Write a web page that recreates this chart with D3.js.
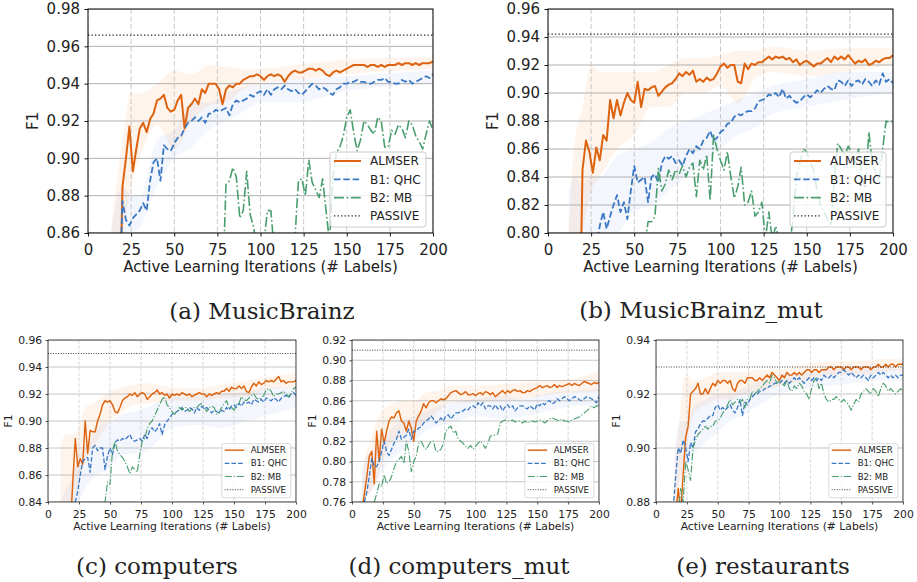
<!DOCTYPE html>
<html>
<head>
<meta charset="utf-8">
<script src="https://cdn.jsdelivr.net/npm/d3@7"></script>
<style>
  body { margin: 0; background: #fff; }
  svg { display: block; }
</style>
</head>
<body>
<svg id="fig" width="917" height="582"></svg>
<script>
// ---- data (F1, every 2nd iteration, x = 0..200) ----
const iterations = d3.range(0, 201, 2);
const xTicks = [0, 25, 50, 75, 100, 125, 150, 175, 200];
const methods = ["ALMSER", "B1: QHC", "B2: MB", "PASSIVE"];
const captions = ["(a) MusicBrainz", "(b) MusicBrainz_mut", "(c) computers", "(d) computers_mut", "(e) restaurants"];
const passiveF1 = [0.966, 0.942, 0.950, 0.910, 0.930];

const yTicksA = [0.86, 0.88, 0.90, 0.92, 0.94, 0.96, 0.98];
const yTicksB = [0.80, 0.82, 0.84, 0.86, 0.88, 0.90, 0.92, 0.94, 0.96];
const yTicksC = [0.84, 0.86, 0.88, 0.90, 0.92, 0.94, 0.96];
const yTicksD = [0.76, 0.78, 0.80, 0.82, 0.84, 0.86, 0.88, 0.90, 0.92];
const yTicksE = [0.88, 0.90, 0.92, 0.94];

// (a) MusicBrainz
const aAlmser = [
  null, null, null, null, null, null, null, null, null, 0.80,
  0.885, 0.9, 0.917, 0.893, 0.905, 0.916, 0.919, 0.914, 0.921, 0.924,
  0.931, 0.932, 0.934, 0.927, 0.925, 0.926, 0.931, 0.934, 0.916, 0.927,
  0.929, 0.932, 0.929, 0.937, 0.935, 0.94, 0.94, 0.94, 0.937, 0.929,
  0.937, 0.939, 0.938, 0.94, 0.94, 0.942, 0.943, 0.944, 0.944, 0.945,
  0.944, 0.942, 0.944, 0.945, 0.944, 0.945, 0.944, 0.941, 0.944, 0.946,
  0.947, 0.946, 0.946, 0.947, 0.948, 0.948, 0.947, 0.948, 0.947, 0.945,
  0.944, 0.946, 0.947, 0.946, 0.947, 0.948, 0.949, 0.95, 0.95, 0.95,
  0.95, 0.949, 0.95, 0.95, 0.949, 0.95, 0.949, 0.95, 0.95, 0.95,
  0.951, 0.95, 0.951, 0.951, 0.95, 0.951, 0.95, 0.951, 0.951, 0.951,
  0.952];
const aQhc = [
  null, null, null, null, null, null, null, null, null, 0.82,
  0.877, 0.867, 0.864, 0.868, 0.87, 0.872, 0.876, 0.872, 0.888, 0.898,
  0.9, 0.888, 0.907, 0.905, 0.904, 0.908, 0.911, 0.912, 0.916, 0.919,
  0.92, 0.922, 0.92, 0.922, 0.919, 0.924, 0.924, 0.926, 0.925, 0.926,
  0.927, 0.923, 0.929, 0.931, 0.93, 0.931, 0.932, 0.934, 0.933, 0.935,
  0.936, 0.934, 0.937, 0.934, 0.937, 0.938, 0.937, 0.939, 0.937, 0.936,
  0.937, 0.935, 0.934, 0.936, 0.938, 0.94, 0.939, 0.937, 0.938, 0.937,
  0.935, 0.934, 0.937, 0.938, 0.94, 0.94, 0.941, 0.941, 0.942, 0.941,
  0.941, 0.94, 0.94, 0.941, 0.942, 0.942, 0.943, 0.941, 0.941, 0.94,
  0.94, 0.942, 0.941, 0.942, 0.94, 0.941, 0.942, 0.943, 0.944, 0.943,
  0.945];
const aMb = [
  null, null, null, null, null, null, null, null, null, null,
  0.80, 0.81, 0.815, 0.82, 0.81, 0.82, 0.825, 0.83, 0.835, 0.83,
  0.83, 0.835, 0.84, 0.838, 0.842, 0.845, 0.84, 0.845, 0.848, 0.845,
  0.848, 0.85, 0.845, 0.848, 0.85, 0.852, 0.848, 0.85, 0.852, 0.83,
  0.886, 0.888, 0.895, 0.89, 0.868, 0.872, 0.893, 0.87, 0.863, 0.85,
  0.845, 0.855, 0.872, 0.872, 0.85, 0.84, 0.845, 0.842, 0.848, 0.845,
  0.858, 0.888, 0.889, 0.88, 0.899, 0.887, 0.883, 0.879, 0.889, 0.872,
  0.855, 0.89, 0.903, 0.906, 0.912, 0.922, 0.926, 0.914, 0.904, 0.91,
  0.92, 0.918, 0.915, 0.913, 0.922, 0.92, 0.906, 0.906, 0.915, 0.913,
  0.918, 0.916, 0.911, 0.92, 0.918, 0.912, 0.909, 0.905, 0.913, 0.92,
  0.915];
const aBandX = [12, 15, 20, 25, 30, 40, 50, 60, 70, 80, 90, 100, 120, 150, 200];
const aAlmserLo = [0.84, 0.85, 0.86, 0.885, 0.9, 0.918, 0.905, 0.92, 0.928, 0.93, 0.937, 0.94, 0.942, 0.945, 0.948];
const aAlmserHi = [0.85, 0.875, 0.91, 0.935, 0.935, 0.94, 0.947, 0.945, 0.95, 0.949, 0.948, 0.948, 0.95, 0.953, 0.954];
const aQhcLo = [0.84, 0.845, 0.855, 0.86, 0.863, 0.885, 0.9, 0.906, 0.915, 0.92, 0.925, 0.93, 0.93, 0.936, 0.94];
const aQhcHi = [0.85, 0.87, 0.885, 0.88, 0.88, 0.91, 0.915, 0.93, 0.93, 0.935, 0.938, 0.94, 0.942, 0.944, 0.947];

// (b) MusicBrainz_mut
const bAlmser = [
  null, null, null, null, null, null, null, null, null, 0.70,
  0.845, 0.866, 0.858, 0.843, 0.861, 0.852, 0.87, 0.866, 0.895, 0.882,
  0.895, 0.884, 0.893, 0.9, 0.895, 0.893, 0.908, 0.89, 0.903, 0.902,
  0.904, 0.905, 0.898, 0.901, 0.904, 0.906, 0.907, 0.91, 0.914, 0.912,
  0.915, 0.913, 0.916, 0.908, 0.91, 0.908, 0.911, 0.909, 0.91, 0.914,
  0.919, 0.921, 0.918, 0.92, 0.92, 0.908, 0.907, 0.921, 0.917, 0.921,
  0.92, 0.922, 0.922, 0.924, 0.926, 0.924, 0.926, 0.925, 0.926, 0.924,
  0.925, 0.922, 0.924, 0.92, 0.922, 0.923, 0.921, 0.919, 0.921, 0.921,
  0.923, 0.925, 0.922, 0.926, 0.924, 0.926, 0.924, 0.927, 0.924, 0.921,
  0.923, 0.922, 0.924, 0.92, 0.921, 0.923, 0.922, 0.924, 0.925, 0.925,
  0.927];
const bQhc = [
  null, null, null, null, null, null, null, null, null, null,
  0.78, 0.785, 0.782, 0.79, 0.79, 0.805, 0.815, 0.803, 0.812, 0.82,
  0.827, 0.815, 0.822, 0.81, 0.83, 0.848, 0.836, 0.838, 0.84, 0.822,
  0.84, 0.842, 0.836, 0.85, 0.855, 0.853, 0.855, 0.85, 0.852, 0.848,
  0.855, 0.86, 0.857, 0.862, 0.86, 0.866, 0.868, 0.873, 0.866, 0.868,
  0.872, 0.874, 0.878, 0.879, 0.883, 0.885, 0.884, 0.886, 0.887, 0.887,
  0.889, 0.894, 0.895, 0.896, 0.899, 0.898, 0.9, 0.897, 0.903, 0.896,
  0.898, 0.895, 0.893, 0.894, 0.897, 0.899, 0.897, 0.899, 0.902, 0.9,
  0.903, 0.905, 0.903, 0.902, 0.909, 0.908, 0.905, 0.909, 0.905, 0.908,
  0.909, 0.906, 0.91, 0.908, 0.905, 0.909, 0.906, 0.914, 0.908, 0.91,
  0.907];
const bMb = [
  null, null, null, null, null, null, null, null, null, null,
  0.76, 0.765, 0.77, 0.77, 0.775, 0.775, 0.78, 0.78, 0.78, 0.785,
  0.785, 0.79, 0.785, 0.79, 0.79, 0.795, 0.79, 0.795, 0.79, 0.808,
  0.808, 0.812, 0.846, 0.83, 0.835, 0.845, 0.838, 0.845, 0.842, 0.848,
  0.84, 0.847, 0.85, 0.826, 0.852, 0.845, 0.856, 0.823, 0.87, 0.86,
  0.852, 0.845, 0.858, 0.84, 0.825, 0.833, 0.847, 0.82, 0.822, 0.83,
  0.812, 0.815, 0.822, 0.795, 0.815, 0.795, 0.805, 0.795, 0.785, 0.79,
  0.79, 0.81, 0.84, 0.85, 0.86, 0.858, 0.85, 0.845, 0.83, 0.82,
  0.815, 0.81, 0.805, 0.84, 0.864, 0.86, 0.855, 0.862, 0.857, 0.85,
  0.86, 0.84, 0.832, 0.872, 0.85, 0.843, 0.838, 0.86, 0.88, 0.879,
  0.88];
const bBandX = [12, 15, 20, 25, 30, 40, 50, 60, 70, 80, 90, 100, 110, 120, 130, 150, 170, 200];
const bAlmserLo = [0.78, 0.78, 0.8, 0.83, 0.84, 0.86, 0.87, 0.89, 0.89, 0.9, 0.9, 0.905, 0.893, 0.91, 0.915, 0.912, 0.915, 0.92];
const bAlmserHi = [0.8, 0.86, 0.89, 0.92, 0.915, 0.915, 0.915, 0.915, 0.92, 0.925, 0.925, 0.927, 0.93, 0.93, 0.933, 0.93, 0.932, 0.932];
const bQhcLo = [0.78, 0.78, 0.79, 0.795, 0.795, 0.8, 0.815, 0.82, 0.83, 0.84, 0.85, 0.86, 0.87, 0.875, 0.885, 0.89, 0.895, 0.9];
const bQhcHi = [0.83, 0.84, 0.835, 0.84, 0.84, 0.855, 0.86, 0.865, 0.875, 0.88, 0.885, 0.89, 0.895, 0.9, 0.905, 0.91, 0.915, 0.915];

// (c) computers
const cAlmser = [
  null, null, null, null, null, null, null, null, null, 0.82,
  0.855, 0.887, 0.866, 0.872, 0.868, 0.9, 0.876, 0.893, 0.892, 0.892,
  0.9, 0.905, 0.912, 0.915, 0.914, 0.915, 0.912, 0.907, 0.906, 0.91,
  0.915, 0.917, 0.918, 0.92, 0.919, 0.921, 0.918, 0.92, 0.921, 0.92,
  0.916, 0.918, 0.92, 0.921, 0.923, 0.92, 0.921, 0.919, 0.92, 0.917,
  0.92, 0.919, 0.92, 0.919, 0.921, 0.92, 0.919, 0.92, 0.918, 0.919,
  0.92, 0.921, 0.92, 0.92, 0.918, 0.92, 0.919, 0.92, 0.921, 0.92,
  0.922, 0.922, 0.924, 0.922, 0.925, 0.924, 0.924, 0.926, 0.924, 0.926,
  0.922, 0.921, 0.925, 0.928, 0.926, 0.929, 0.927, 0.928, 0.93, 0.929,
  0.93, 0.929, 0.931, 0.933, 0.929, 0.93, 0.928, 0.929, 0.929, 0.929,
  0.93];
const cQhc = [
  null, null, null, null, null, null, null, null, null, null,
  0.83, 0.84, 0.848, 0.86, 0.87, 0.872, 0.873, 0.862, 0.88, 0.882,
  0.878, 0.88, 0.88, 0.864, 0.874, 0.88, 0.875, 0.884, 0.886, 0.885,
  0.887, 0.886, 0.888, 0.89, 0.886, 0.885, 0.886, 0.887, 0.885, 0.89,
  0.887, 0.893, 0.895, 0.892, 0.894, 0.898, 0.89, 0.897, 0.9, 0.902,
  0.905, 0.906, 0.907, 0.908, 0.91, 0.907, 0.908, 0.91, 0.909, 0.906,
  0.91, 0.908, 0.911, 0.909, 0.91, 0.908, 0.906, 0.908, 0.907, 0.906,
  0.908, 0.907, 0.91, 0.908, 0.911, 0.912, 0.91, 0.913, 0.911, 0.914,
  0.913, 0.914, 0.912, 0.916, 0.915, 0.914, 0.916, 0.914, 0.917, 0.916,
  0.915, 0.917, 0.916, 0.914, 0.917, 0.918, 0.919, 0.917, 0.92, 0.921,
  0.919];
const cMb = [
  null, null, null, null, null, null, null, null, null, null,
  null, null, null, null, null, null, null, null, null, null,
  null, null, 0.83, 0.84, 0.855, 0.853, 0.878, 0.885, 0.878, 0.875,
  0.873, 0.87, 0.866, 0.861, 0.866, 0.864, 0.862, 0.875, 0.885, 0.887,
  0.894, 0.898, 0.9, 0.904, 0.908, 0.912, 0.916, 0.918, 0.912, 0.91,
  0.907, 0.905, 0.907, 0.91, 0.908, 0.91, 0.91, 0.907, 0.909, 0.91,
  0.91, 0.912, 0.913, 0.91, 0.907, 0.91, 0.911, 0.91, 0.905, 0.906,
  0.91, 0.913, 0.915, 0.91, 0.91, 0.908, 0.912, 0.913, 0.918, 0.916,
  0.915, 0.917, 0.919, 0.92, 0.917, 0.916, 0.917, 0.919, 0.923, 0.924,
  0.922, 0.918, 0.92, 0.92, 0.921, 0.922, 0.92, 0.918, 0.92, 0.924,
  0.925];
const cBandX = [10, 15, 20, 25, 30, 40, 50, 60, 70, 80, 100, 120, 140, 160, 180, 200];
const cAlmserLo = [0.82, 0.83, 0.84, 0.855, 0.87, 0.885, 0.9, 0.907, 0.912, 0.913, 0.915, 0.915, 0.917, 0.918, 0.924, 0.925];
const cAlmserHi = [0.883, 0.89, 0.89, 0.895, 0.91, 0.915, 0.922, 0.925, 0.927, 0.928, 0.925, 0.924, 0.927, 0.93, 0.933, 0.935];
const cQhcLo = [0.82, 0.82, 0.83, 0.84, 0.85, 0.86, 0.865, 0.875, 0.876, 0.878, 0.895, 0.897, 0.895, 0.9, 0.905, 0.91];
const cQhcHi = [0.84, 0.85, 0.86, 0.875, 0.88, 0.895, 0.9, 0.905, 0.907, 0.91, 0.918, 0.918, 0.92, 0.922, 0.925, 0.925];

// (d) computers_mut
const dAlmser = [
  null, null, null, null, 0.75, 0.768, 0.785, 0.805, 0.81, 0.778,
  0.83, 0.8, 0.832, 0.818, 0.83, 0.84, 0.844, 0.843, 0.848, 0.85,
  0.84, 0.838, 0.83, 0.84, 0.833, 0.82, 0.84, 0.845, 0.85, 0.857,
  0.853, 0.858, 0.86, 0.86, 0.858, 0.86, 0.862, 0.861, 0.862, 0.865,
  0.868, 0.869, 0.87, 0.868, 0.866, 0.867, 0.869, 0.866, 0.866, 0.867,
  0.865, 0.867, 0.868, 0.866, 0.869, 0.868, 0.866, 0.868, 0.864, 0.866,
  0.868, 0.87, 0.867, 0.87, 0.868, 0.87, 0.871, 0.869, 0.87, 0.868,
  0.868, 0.87, 0.869, 0.871, 0.872, 0.873, 0.875, 0.873, 0.874, 0.875,
  0.873, 0.874, 0.876, 0.873, 0.875, 0.874, 0.875, 0.876, 0.877, 0.875,
  0.877, 0.876, 0.875, 0.877, 0.879, 0.878, 0.877, 0.876, 0.878, 0.877,
  0.878];
const dQhc = [
  null, null, null, null, null, 0.76, 0.77, 0.785, 0.803, 0.795,
  0.795, 0.8, 0.81, 0.82, 0.81, 0.806, 0.812, 0.818, 0.822, 0.83,
  0.822, 0.824, 0.826, 0.832, 0.822, 0.83, 0.83, 0.833, 0.834, 0.838,
  0.84, 0.842, 0.845, 0.842, 0.838, 0.84, 0.843, 0.84, 0.845, 0.846,
  0.842, 0.845, 0.848, 0.848, 0.849, 0.85, 0.852, 0.851, 0.854, 0.855,
  0.853, 0.858, 0.855, 0.858, 0.852, 0.855, 0.855, 0.852, 0.856, 0.852,
  0.855, 0.85, 0.854, 0.856, 0.853, 0.855, 0.85, 0.853, 0.855, 0.855,
  0.853, 0.852, 0.855, 0.853, 0.851, 0.857, 0.855, 0.858, 0.856, 0.859,
  0.86, 0.857, 0.858, 0.862, 0.86, 0.862, 0.864, 0.862, 0.86, 0.862,
  0.864, 0.863, 0.861, 0.86, 0.862, 0.864, 0.863, 0.862, 0.86, 0.858,
  0.864];
const dMb = [
  null, null, null, null, null, null, null, null, null, 0.76,
  0.768, 0.778, 0.775, 0.787, 0.778, 0.78, 0.785, 0.793, 0.8, 0.802,
  0.805, 0.798, 0.82, 0.81, 0.79, 0.8, 0.805, 0.818, 0.82, 0.815,
  0.812, 0.816, 0.82, 0.82, 0.81, 0.81, 0.812, 0.818, 0.83, 0.833,
  0.835, 0.828, 0.83, 0.822, 0.82, 0.818, 0.815, 0.813, 0.816, 0.812,
  0.815, 0.818, 0.82, 0.817, 0.813, 0.818, 0.825, 0.826, 0.826, 0.827,
  0.838, 0.84, 0.841, 0.84, 0.84, 0.841, 0.839, 0.84, 0.84, 0.838,
  0.84, 0.838, 0.839, 0.84, 0.839, 0.84, 0.841, 0.84, 0.838, 0.84,
  0.842, 0.843, 0.842, 0.841, 0.84, 0.842, 0.84, 0.84, 0.839, 0.841,
  0.842, 0.843, 0.844, 0.846, 0.848, 0.85, 0.852, 0.855, 0.853, 0.855,
  0.855];
const dBandX = [8, 10, 15, 20, 25, 30, 40, 50, 60, 70, 80, 100, 120, 140, 160, 180, 190, 200];
const dAlmserLo = [0.75, 0.76, 0.77, 0.78, 0.8, 0.815, 0.825, 0.83, 0.84, 0.85, 0.858, 0.858, 0.86, 0.862, 0.866, 0.868, 0.868, 0.87];
const dAlmserHi = [0.77, 0.8, 0.82, 0.84, 0.85, 0.855, 0.86, 0.86, 0.868, 0.87, 0.875, 0.875, 0.876, 0.878, 0.88, 0.882, 0.885, 0.89];
const dQhcLo = [0.75, 0.76, 0.77, 0.78, 0.79, 0.8, 0.81, 0.82, 0.83, 0.835, 0.838, 0.845, 0.842, 0.845, 0.85, 0.855, 0.855, 0.855];
const dQhcHi = [0.79, 0.8, 0.81, 0.815, 0.822, 0.83, 0.84, 0.845, 0.85, 0.855, 0.858, 0.862, 0.865, 0.862, 0.868, 0.87, 0.871, 0.872];

// (e) restaurants
const eAlmser = [
  null, null, null, null, null, null, null, null, 0.875, 0.885,
  0.876, 0.89, 0.904, 0.908, 0.92, 0.921, 0.922, 0.924, 0.92, 0.92,
  0.922, 0.92, 0.922, 0.924, 0.923, 0.925, 0.924, 0.925, 0.925, 0.924,
  0.925, 0.922, 0.921, 0.924, 0.925, 0.925, 0.924, 0.926, 0.926, 0.926,
  0.925, 0.925, 0.926, 0.925, 0.926, 0.927, 0.926, 0.928, 0.927, 0.926,
  0.925, 0.927, 0.926, 0.928, 0.927, 0.927, 0.928, 0.927, 0.928, 0.927,
  0.928, 0.929, 0.929, 0.928, 0.929, 0.929, 0.928, 0.929, 0.929, 0.929,
  0.93, 0.93, 0.929, 0.93, 0.93, 0.93, 0.929, 0.93, 0.93, 0.929,
  0.93, 0.93, 0.93, 0.929, 0.93, 0.93, 0.93, 0.929, 0.93, 0.93,
  0.931, 0.93, 0.93, 0.931, 0.93, 0.931, 0.931, 0.93, 0.931, 0.931,
  0.931];
const eQhc = [
  null, null, null, null, null, null, null, 0.878, 0.89, 0.9,
  0.898, 0.903, 0.9, 0.895, 0.902, 0.9, 0.906, 0.907, 0.909, 0.91,
  0.91, 0.911, 0.912, 0.912, 0.915, 0.916, 0.914, 0.915, 0.914, 0.915,
  0.916, 0.914, 0.913, 0.915, 0.918, 0.912, 0.917, 0.916, 0.918, 0.919,
  0.92, 0.92, 0.921, 0.921, 0.922, 0.922, 0.923, 0.923, 0.924, 0.924,
  0.924, 0.925, 0.924, 0.925, 0.924, 0.925, 0.926, 0.925, 0.926, 0.925,
  0.924, 0.925, 0.926, 0.925, 0.926, 0.925, 0.926, 0.925, 0.927, 0.926,
  0.926, 0.927, 0.926, 0.927, 0.928, 0.928, 0.929, 0.928, 0.927, 0.928,
  0.927, 0.926, 0.927, 0.926, 0.927, 0.926, 0.925, 0.927, 0.926, 0.927,
  0.928, 0.927, 0.928, 0.927, 0.926, 0.927, 0.926, 0.927, 0.926, 0.927,
  0.927];
const eMb = [
  null, null, null, null, null, null, null, null, null, 0.875,
  0.885, 0.88, 0.895, 0.892, 0.888, 0.9, 0.903, 0.905, 0.906, 0.907,
  0.908, 0.907, 0.908, 0.908, 0.91, 0.91, 0.911, 0.913, 0.914, 0.916,
  0.918, 0.916, 0.917, 0.918, 0.917, 0.918, 0.915, 0.918, 0.918, 0.921,
  0.92, 0.921, 0.922, 0.923, 0.924, 0.925, 0.924, 0.927, 0.926, 0.924,
  0.925, 0.924, 0.923, 0.925, 0.922, 0.921, 0.923, 0.922, 0.924, 0.923,
  0.921, 0.92, 0.918, 0.922, 0.925, 0.926, 0.922, 0.924, 0.92, 0.918,
  0.917, 0.918, 0.918, 0.919, 0.918, 0.917, 0.918, 0.917, 0.916, 0.914,
  0.916, 0.918, 0.917, 0.92, 0.921, 0.922, 0.921, 0.92, 0.922, 0.921,
  0.919, 0.922, 0.924, 0.923, 0.921, 0.922, 0.921, 0.92, 0.921, 0.922,
  0.921];
const eBandX = [15, 20, 22, 25, 30, 40, 50, 60, 70, 80, 100, 120, 140, 160, 180, 200];
const eAlmserLo = [0.878, 0.885, 0.89, 0.9, 0.912, 0.916, 0.918, 0.918, 0.92, 0.921, 0.923, 0.925, 0.927, 0.927, 0.928, 0.929];
const eAlmserHi = [0.893, 0.915, 0.925, 0.927, 0.925, 0.926, 0.928, 0.928, 0.928, 0.929, 0.929, 0.931, 0.932, 0.932, 0.933, 0.933];
const eQhcLo = [0.878, 0.89, 0.891, 0.893, 0.897, 0.902, 0.906, 0.91, 0.912, 0.915, 0.92, 0.922, 0.923, 0.924, 0.925, 0.925];
const eQhcHi = [0.9, 0.91, 0.91, 0.91, 0.915, 0.918, 0.92, 0.92, 0.922, 0.924, 0.927, 0.928, 0.929, 0.93, 0.93, 0.929];

// ---- styling ----
const lineStyles = [
  { color: "#dd6310", width: 2.0, dash: null },
  { color: "#3a78c4", width: 1.8, dash: [6.5, 2.8] },
  { color: "#4a9e6e", width: 1.6, dash: [10, 2.6, 1.6, 2.6] },
  { color: "#222222", width: 1.3, dash: [1.3, 2.2] }
];
const bandColors = ["#ff8f3a", "#6a8fe0"];
const bandOpacity = [0.1, 0.08];
const sansFont = "'DejaVu Sans', sans-serif";

const panels = [
  { id: "a", left: 88, top: 9, width: 345, height: 224, s: 1, yDomain: [0.86, 0.98], yTicks: yTicksA,
    series: [aAlmser, aQhc, aMb], bandX: aBandX, bands: [[aAlmserLo, aAlmserHi], [aQhcLo, aQhcHi]],
    passive: passiveF1[0], caption: captions[0], cap: [262, 319] },
  { id: "b", left: 548, top: 9, width: 345, height: 224, s: 1, yDomain: [0.80, 0.96], yTicks: yTicksB,
    series: [bAlmser, bQhc, bMb], bandX: bBandX, bands: [[bAlmserLo, bAlmserHi], [bQhcLo, bQhcHi]],
    passive: passiveF1[1], caption: captions[1], cap: [701, 318] },
  { id: "c", left: 48, top: 340, width: 248, height: 162, s: 0.72, yDomain: [0.84, 0.96], yTicks: yTicksC,
    series: [cAlmser, cQhc, cMb], bandX: cBandX, bands: [[cAlmserLo, cAlmserHi], [cQhcLo, cQhcHi]],
    passive: passiveF1[2], caption: captions[2], cap: [157, 574] },
  { id: "d", left: 352, top: 340, width: 247, height: 162, s: 0.72, yDomain: [0.76, 0.92], yTicks: yTicksD,
    series: [dAlmser, dQhc, dMb], bandX: dBandX, bands: [[dAlmserLo, dAlmserHi], [dQhcLo, dQhcHi]],
    passive: passiveF1[3], caption: captions[3], cap: [459, 574] },
  { id: "e", left: 656, top: 340, width: 247, height: 162, s: 0.72, yDomain: [0.88, 0.94], yTicks: yTicksE,
    series: [eAlmser, eQhc, eMb], bandX: eBandX, bands: [[eAlmserLo, eAlmserHi], [eQhcLo, eQhcHi]],
    passive: passiveF1[4], caption: captions[4], cap: [763, 574] }
];

const svg = d3.select("#fig");
const defs = svg.append("defs");

function dashFor(style, s) {
  return style.dash ? style.dash.map(v => v * s).join(",") : null;
}

function drawPanel(p) {
  const s = p.s;
  const right = p.left + p.width, bottom = p.top + p.height;
  const x = d3.scaleLinear().domain([0, 200]).range([p.left, right]);
  const y = d3.scaleLinear().domain(p.yDomain).range([bottom, p.top]);
  const g = svg.append("g").attr("class", "panel-" + p.id);

  defs.append("clipPath").attr("id", "clip-" + p.id)
    .append("rect")
    .attr("x", p.left).attr("y", p.top)
    .attr("width", p.width).attr("height", p.height);

  const plot = g.append("g").attr("clip-path", `url(#clip-${p.id})`);

  // confidence bands
  p.bands.forEach((b, k) => {
    const area = d3.area()
      .x((d, i) => x(p.bandX[i]))
      .y0((d, i) => y(b[0][i]))
      .y1((d, i) => y(b[1][i]))
      .curve(d3.curveMonotoneX);
    plot.append("path")
      .datum(p.bandX)
      .attr("d", area)
      .attr("fill", bandColors[k])
      .attr("fill-opacity", bandOpacity[k]);
  });

  // grid
  plot.selectAll(".hgrid")
    .data(p.yTicks)
    .enter().append("line")
    .attr("x1", p.left).attr("x2", right)
    .attr("y1", d => y(d)).attr("y2", d => y(d))
    .attr("stroke", "#b0b0b0")
    .attr("stroke-width", 1 * s);
  plot.selectAll(".vgrid")
    .data(xTicks)
    .enter().append("line")
    .attr("x1", d => x(d)).attr("x2", d => x(d))
    .attr("y1", p.top).attr("y2", bottom)
    .attr("stroke", "#c8c8c8")
    .attr("stroke-width", 1 * s)
    .attr("stroke-dasharray", `${5 * s},${2.5 * s}`);

  // method lines
  const line = d3.line()
    .defined(d => d != null)
    .x((d, i) => x(iterations[i]))
    .y(d => y(d));
  p.series.forEach((vals, k) => {
    const st = lineStyles[k];
    plot.append("path")
      .datum(vals)
      .attr("d", line)
      .attr("fill", "none")
      .attr("stroke", st.color)
      .attr("stroke-width", st.width * s)
      .attr("stroke-linejoin", "round")
      .attr("stroke-dasharray", dashFor(st, s));
  });

  // passive learning baseline
  const ps = lineStyles[3];
  plot.append("line")
    .attr("x1", p.left).attr("x2", right)
    .attr("y1", y(p.passive)).attr("y2", y(p.passive))
    .attr("stroke", ps.color)
    .attr("stroke-width", ps.width * s)
    .attr("stroke-dasharray", dashFor(ps, s));

  // axes
  const fs = 15 * s;
  const xAxis = g.append("g")
    .attr("transform", `translate(0,${bottom})`)
    .call(d3.axisBottom(x).tickValues(xTicks).tickFormat(d3.format("d"))
      .tickSize(3.5 * s).tickSizeOuter(0).tickPadding(7.5 * s));
  const yAxis = g.append("g")
    .attr("transform", `translate(${p.left},0)`)
    .call(d3.axisLeft(y).tickValues(p.yTicks).tickFormat(d3.format(".2f"))
      .tickSize(3.5 * s).tickSizeOuter(0).tickPadding(4.5 * s));
  [xAxis, yAxis].forEach(ax => {
    ax.select(".domain").remove();
    ax.selectAll(".tick line").attr("stroke", "#000").attr("stroke-width", 0.9 * s);
    ax.selectAll(".tick text")
      .attr("fill", "#222")
      .style("font-family", sansFont)
      .style("font-size", fs + "px");
  });

  // spines
  g.append("rect")
    .attr("x", p.left).attr("y", p.top)
    .attr("width", p.width).attr("height", p.height)
    .attr("fill", "none")
    .attr("stroke", "#000")
    .attr("stroke-width", 1 * s);

  // axis titles
  g.append("text")
    .attr("x", (p.left + right) / 2)
    .attr("y", bottom + 38.5 * s)
    .attr("text-anchor", "middle")
    .attr("fill", "#222")
    .style("font-family", sansFont)
    .style("font-size", fs + "px")
    .text("Active Learning Iterations (# Labels)");
  g.append("text")
    .attr("transform", `translate(${p.left - 50 * s},${(p.top + bottom) / 2}) rotate(-90)`)
    .attr("text-anchor", "middle")
    .attr("fill", "#222")
    .style("font-family", sansFont)
    .style("font-size", fs + "px")
    .text("F1");

  // legend
  const lw = 96 * s, lh = 75 * s;
  const lx = right - 7 * s - lw, ly = bottom - 6 * s - lh;
  const legend = g.append("g").attr("transform", `translate(${lx},${ly})`);
  legend.append("rect")
    .attr("width", lw).attr("height", lh)
    .attr("rx", 3 * s)
    .attr("fill", "#fff").attr("fill-opacity", 0.8)
    .attr("stroke", "#cccccc").attr("stroke-width", 1 * s);
  const items = legend.selectAll(".item")
    .data(methods)
    .enter().append("g")
    .attr("transform", (d, i) => `translate(0,${(9 + i * 18.3) * s})`);
  items.append("line")
    .attr("x1", 4 * s).attr("x2", 31 * s)
    .attr("stroke", (d, i) => lineStyles[i].color)
    .attr("stroke-width", (d, i) => lineStyles[i].width * s)
    .attr("stroke-dasharray", (d, i) => dashFor(lineStyles[i], s));
  items.append("text")
    .attr("x", 40 * s)
    .attr("dy", "0.36em")
    .attr("fill", "#222")
    .style("font-family", sansFont)
    .style("font-size", (12 * s) + "px")
    .text(d => d);

  // caption
  svg.append("text")
    .attr("x", p.cap[0])
    .attr("y", p.cap[1])
    .attr("text-anchor", "middle")
    .attr("fill", "#222")
    .style("font-family", "'DejaVu Serif', serif")
    .style("font-size", "23px")
    .text(p.caption);
}

panels.forEach(drawPanel);
</script>
</body>
</html>
